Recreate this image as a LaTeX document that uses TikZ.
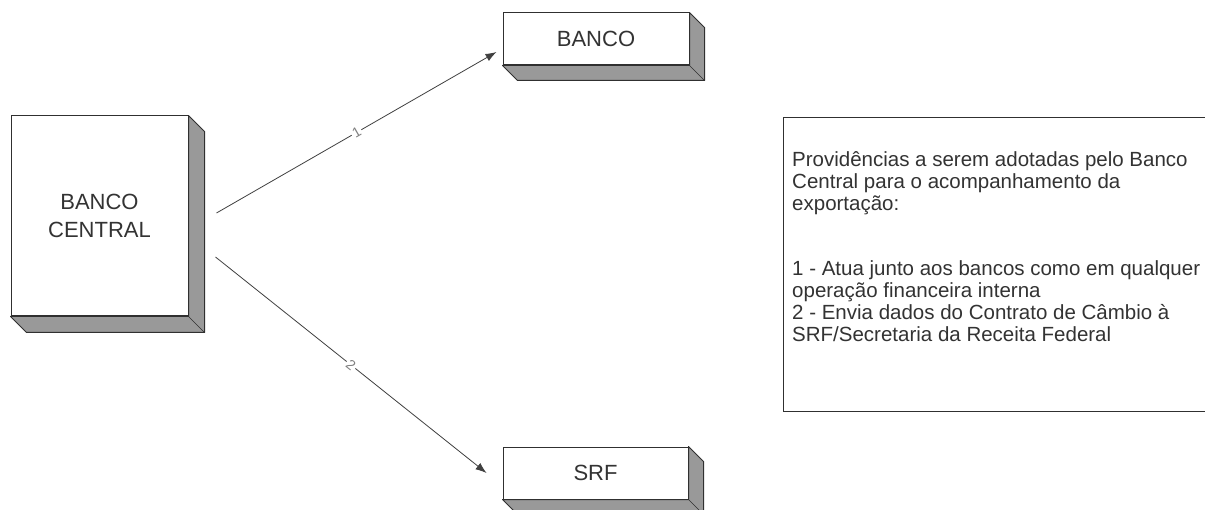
\documentclass[tikz,border=0pt]{standalone}
\usepackage{fontspec}
\setmainfont{Liberation Sans}
\usepackage{xcolor}
\usetikzlibrary{arrows.meta}

\definecolor{sidegray}{HTML}{999999}
\definecolor{edgegray}{HTML}{303030}
\definecolor{textgray}{HTML}{333333}
\definecolor{numgray}{HTML}{808080}

% side and bottom faces of a raised box
\newcommand{\boxdepth}[2]{%
  \filldraw[fill=sidegray, draw=edgegray, line width=1pt, line join=round]
    (#1.north east) -- ([shift={(#2,#2)}]#1.north east)
    -- ([shift={(#2,#2)}]#1.south east) -- ([shift={(#2,#2)}]#1.south west)
    -- (#1.south west) -- (#1.south east) -- cycle;
  \draw[edgegray, line width=0.6pt] (#1.south east) -- ([shift={(#2,#2)}]#1.south east);
}

\begin{document}
\begin{tikzpicture}[x=1pt, y=-1pt,
    entity/.style={draw=edgegray, line width=1pt, fill=white, inner sep=0pt,
      font=\fontsize{22}{28}\selectfont, text=textgray, align=center},
    link/.style={draw=black!75, line width=0.8pt, -{Latex[length=11pt, width=8pt]}},
    numlabel/.style={sloped, fill=white, inner sep=1.5pt, text=numgray,
      font=\fontsize{14}{14}\selectfont},
    infotext/.style={align=left, inner sep=0pt, text=textgray,
      font=\fontsize{20.5}{22.3}\selectfont}]
    \useasboundingbox (0,0) rectangle (1205,510);
    \clip (0,0) rectangle (1205,510);
    \fill[white] (0,0) rectangle (1205,510);

    % Banco Central
    \node[entity, minimum width=177, minimum height=200] (bc) at (99.5,216) {BANCO\\CENTRAL};
    \boxdepth{bc}{16}

    % Banco
    \node[entity, minimum width=186, minimum height=52] (banco) at (596,39) {BANCO};
    \boxdepth{banco}{15}

    % SRF
    \node[entity, minimum width=185, minimum height=52] (srf) at (595.5,473) {SRF};
    \boxdepth{srf}{15}

    % Arrows
    \draw[link] ([xshift=28pt, yshift=3pt]bc.east) -- ([xshift=-6pt, yshift=-13pt]banco.west)
      node[numlabel, midway] {1};
    \draw[link] ([xshift=27pt, yshift=-41pt]bc.east) -- ([xshift=-16pt, yshift=0pt]srf.west)
      node[numlabel, midway] {2};

    % Notes
    \draw[edgegray, line width=1pt] (783,118) rectangle (1215,412);
    \node[infotext, anchor=north west] (info) at (792,151)
      {Providências a serem adotadas pelo Banco\\
       Central para o acompanhamento da\\
       exportação:\\[42pt]
       1 - Atua junto aos bancos como em qualquer\\
       operação financeira interna\\
       2 - Envia dados do Contrato de Câmbio à\\
       SRF/Secretaria da Receita Federal};
\end{tikzpicture}
\end{document}
